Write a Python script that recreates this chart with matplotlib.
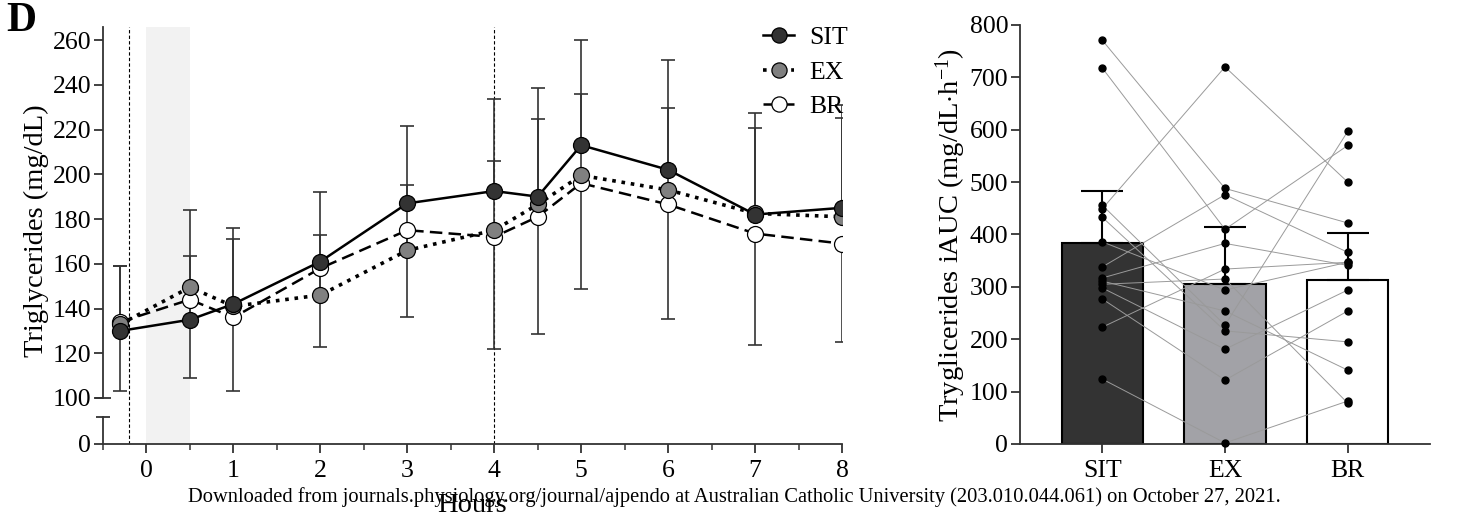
import numpy as np
import matplotlib
matplotlib.use("Agg")
import matplotlib.pyplot as plt
from matplotlib.ticker import MultipleLocator

plt.rcParams['font.family'] = ['Liberation Serif', 'DejaVu Serif']
plt.rcParams['mathtext.fontset'] = 'custom'
plt.rcParams['mathtext.rm'] = 'Liberation Serif'
plt.rcParams['mathtext.it'] = 'Liberation Serif:italic'

# time course (hours) and mean triglycerides, mg/dL
hours = [-0.3, 0.5, 1, 2, 3, 4, 4.5, 5, 6, 7, 8]
sit_tg = [130, 135, 142, 161, 187, 192.5, 190, 213, 202, 182, 185]
ex_tg = [133, 149.5, 141, 146, 166, 175, 186.5, 199.5, 193, 182.5, 181]
br_tg = [134, 144, 136, 158, 175, 172, 181, 196, 186.5, 173.5, 169]
sit_sd = [29, 49, 34, 31, 34.5, 41, 48.5, 47, 49, 45.5, 46]
ex_sd = [26, 14, 30, 27, 29, 31, 38, 36.5, 36.5, 38, 44]
br_sd = [31, 35, 33, 35, 39, 50, 52.5, 47.5, 51, 50, 44]

# iAUC per condition
groups = ['SIT', 'EX', 'BR']
auc_mean = [384, 305, 313]
auc_sd = [99.5, 110, 89]
sit_auc = [771, 718, 456, 449, 433, 386, 338, 317, 311, 298, 305, 277, 223, 124]
ex_auc = [488, 410, 227, 720, 216, 294, 476, 383, 254, 181, 315, 122, 334, 2]
br_auc = [422, 570, 597, 500, 195, 347, 366, 341, 141, 294, 78, 254, 347, 82]

dark = '#333333'
W, H = 1457, 514
fig = plt.figure(figsize=(W / 100, H / 100), dpi=100)

def fr(x0, y0, x1, y1):
    return [x0 / W, 1 - y1 / H, (x1 - x0) / W, (y1 - y0) / H]

# shaded exercise window and dashed markers span the whole broken axis
bg = fig.add_axes(fr(103, 26.6, 842, 444), zorder=0)
bg.set_xlim(-0.5, 8)
bg.axvspan(0, 0.5, color='#f2f2f2', lw=0)
for xv in (-0.2, 4):
    bg.axvline(xv, color='black', lw=0.8, ls=(0, (3, 2)))
bg.axis('off')

ax = fig.add_axes(fr(103, 26.6, 842, 398), zorder=1)
axb = fig.add_axes(fr(103, 417, 842, 444), zorder=1)

for a in (ax, axb):
    a.set_xlim(-0.5, 8)
    a.spines['top'].set_visible(False)
    a.spines['right'].set_visible(False)
    a.spines['left'].set_color(dark)
    a.spines['bottom'].set_color(dark)
    a.spines['left'].set_linewidth(1.3)
    a.spines['bottom'].set_linewidth(1.3)
    a.tick_params(labelsize=18.5, width=1.3, length=6.5, color=dark, direction='out', pad=2)
    a.patch.set_alpha(0)

ax.set_ylim(100, 266)
ax.spines['bottom'].set_visible(False)
ax.set_yticks(np.arange(100, 261, 20))
ax.set_xticks([])
axb.set_ylim(0, 12.1)
axb.set_yticks([0])
axb.set_xticks(range(0, 9))
axb.xaxis.set_minor_locator(MultipleLocator(0.5))
axb.tick_params(axis='x', which='minor', length=4, width=1.1, color=dark)
axb.tick_params(axis='x', pad=5)

# axis break caps
ax.plot(0, 0, marker='_', ms=12, mew=1.3, color=dark, transform=ax.transAxes, clip_on=False)
axb.plot(0, 1, marker='_', ms=10, mew=1.3, color=dark, transform=axb.transAxes, clip_on=False)

eb = dict(fmt='none', ecolor=dark, elinewidth=1.2, capsize=5, capthick=1.2, zorder=2)
zeros = np.zeros(len(hours))
ax.errorbar(hours, sit_tg, yerr=[zeros, sit_sd], **eb)
ax.errorbar(hours, ex_tg, yerr=[zeros, ex_sd], **eb)
ax.errorbar(hours, br_tg, yerr=[br_sd, zeros], **eb)

mk = dict(marker='o', ms=11.5, mec='black', mew=0.9, zorder=3)
ax.plot(hours, br_tg, ls=(0, (5, 2.5)), lw=1.8, color='black', mfc='white', label='BR', **mk)
ax.plot(hours, ex_tg, ls=(0, (1, 1.6)), lw=2.6, color='black', mfc='#808080', label='EX', **mk)
ax.plot(hours, sit_tg, ls='-', lw=1.8, color='black', mfc=dark, label='SIT', **mk)

h, l = ax.get_legend_handles_labels()
ax.legend(h[::-1], l[::-1], loc='upper left', bbox_to_anchor=(740 / W, 1 - 3 / H),
          bbox_transform=fig.transFigure, frameon=False, fontsize=18.5,
          handlelength=1.2, labelspacing=0.45, handletextpad=0.6, markerscale=0.95)

ax.set_ylabel('Triglycerides (mg/dL)', fontsize=20.5)
ax.yaxis.set_label_coords(-54 / (842 - 103), 0.45)
fig.text(472 / W, 1 - 505 / H, 'Hours', fontsize=20.5, ha='center', va='center')
fig.text(6 / W, 1 - 21 / H, 'D', fontsize=30, fontweight='bold', ha='left', va='center')

# right panel: iAUC bars with individual data
ax2 = fig.add_axes(fr(1020, 25, 1430, 444))
xpos = np.arange(len(groups))
ax2.bar(xpos, auc_mean, width=0.66, color=[dark, '#a2a2a7', 'white'],
        edgecolor='black', linewidth=1.5, zorder=1)
ax2.errorbar(xpos, auc_mean, yerr=[np.zeros(3), auc_sd], fmt='none', ecolor='black',
             elinewidth=1.5, capsize=15, capthick=1.5, zorder=2)
for s, e, b in zip(sit_auc, ex_auc, br_auc):
    ax2.plot(xpos, [s, e, b], color='#9a9a9a', lw=0.7, zorder=3)
for i, vals in enumerate([sit_auc, ex_auc, br_auc]):
    ax2.plot(np.full(len(vals), xpos[i]), vals, 'o', color='black', ms=5, zorder=4, clip_on=False)

ax2.set_xlim(-0.67, 2.67)
ax2.set_ylim(0, 800)
ax2.set_yticks(np.arange(0, 801, 100))
ax2.set_xticks(xpos)
ax2.set_xticklabels(groups)
ax2.spines['top'].set_visible(False)
ax2.spines['right'].set_visible(False)
ax2.spines['left'].set_color(dark)
ax2.spines['bottom'].set_color(dark)
ax2.spines['left'].set_linewidth(1.3)
ax2.spines['bottom'].set_linewidth(1.3)
ax2.tick_params(labelsize=18.5, width=1.3, length=6.5, color=dark, pad=2)
ax2.tick_params(axis='x', pad=5)
ax2.set_ylabel(r'Tryglicerides iAUC (mg/dL$\cdot$h$^{\mathregular{-1}}$)', fontsize=20.5)
ax2.yaxis.set_label_coords(-52 / 410, 0.5)

fig.text(734 / W, 1 - 497 / H,
         'Downloaded from journals.physiology.org/journal/ajpendo at Australian Catholic '
         'University (203.010.044.061) on October 27, 2021.',
         fontsize=14.8, ha='center', va='center')

fig.savefig('out.png', dpi=100)
